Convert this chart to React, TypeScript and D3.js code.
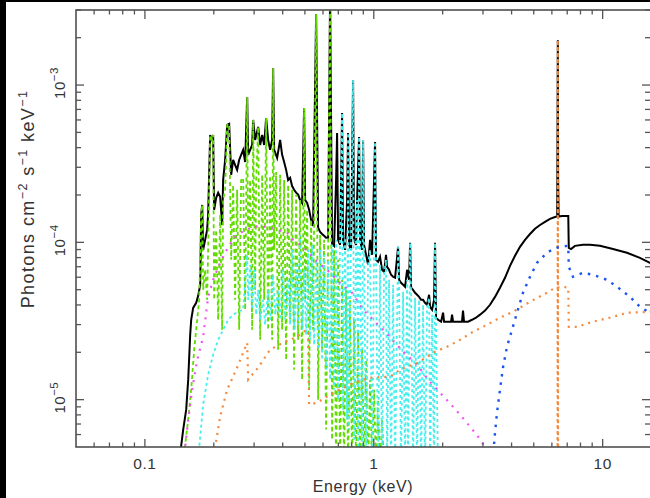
import React from "react";
import * as d3 from "d3";

const W = 650;
const H = 498;
const PLOT = { left: 76, right: 650, top: 10, bottom: 447 };

const energyDomain = [0.05, 16.1];
const fluxDomain = [5e-6, 3e-3];

const xMajorTicks = [0.1, 1, 10];
const xTickLabels = ["0.1", "1", "10"];
const xMinorTicks = [0.06, 0.07, 0.08, 0.09, 0.2, 0.3, 0.4, 0.5, 0.6, 0.7, 0.8, 0.9, 2, 3, 4, 5, 6, 7, 8, 9];
const yMajorTicks = [1e-5, 1e-4, 1e-3];
const yTickExponents = ["−5", "−4", "−3"];
const yMinorTicks = [6e-6, 7e-6, 8e-6, 9e-6, 2e-5, 3e-5, 4e-5, 5e-5, 6e-5, 7e-5, 8e-5, 9e-5,
  2e-4, 3e-4, 4e-4, 5e-4, 6e-4, 7e-4, 8e-4, 9e-4, 2e-3, 3e-3];

// total model (black)
const totalEnergy = [0.1398, 0.1470, 0.1515, 0.1546, 0.1577, 0.1593, 0.1625, 0.1675, 0.1709, 0.1744,
  0.1762, 0.1780, 0.1797, 0.1833, 0.1870, 0.1889, 0.1928, 0.1967, 0.1987, 0.2007, 0.2048, 0.2090, 0.2132,
  0.2175, 0.2197, 0.2242, 0.2288, 0.2334, 0.2382, 0.2430, 0.2479, 0.2529, 0.2581, 0.2633, 0.2687, 0.2742,
  0.2798, 0.2826, 0.2883, 0.2942, 0.2971, 0.3032, 0.3125, 0.3188, 0.3253, 0.3319, 0.3386, 0.3455, 0.3525,
  0.3597, 0.3633, 0.3670, 0.3782, 0.3898, 0.3977, 0.4058, 0.4140, 0.4224, 0.4310, 0.4397, 0.4487, 0.4578,
  0.4671, 0.4766, 0.4863, 0.4961, 0.5012, 0.5114, 0.5217, 0.5323, 0.5431, 0.5598, 0.5712, 0.5827, 0.5945,
  0.6066, 0.6190, 0.6316, 0.6443, 0.6574, 0.6707, 0.6845, 0.6914, 0.6983, 0.7125, 0.7270, 0.7343, 0.7492,
  0.7644, 0.7721, 0.7799, 0.7959, 0.8120, 0.8202, 0.8369, 0.8453, 0.8625, 0.8712, 0.8889, 0.8979, 0.9069,
  0.9255, 0.9442, 0.9634, 0.9830, 1.013, 1.023, 1.044, 1.065, 1.087, 1.109, 1.131, 1.143, 1.166, 1.190,
  1.214, 1.239, 1.277, 1.290, 1.316, 1.343, 1.370, 1.398, 1.426, 1.441, 1.456, 1.485, 1.515, 1.546, 1.577,
  1.609, 1.642, 1.675, 1.709, 1.744, 1.762, 1.798, 1.834, 1.852, 1.871, 1.909, 1.968, 2.008, 2.028, 2.176,
  2.198, 2.220, 2.429, 2.454, 2.479, 2.581, 2.686, 2.797, 2.912, 3.062, 3.220, 3.386, 3.560, 3.744, 3.937,
  4.140, 4.354, 4.578, 4.814, 5.063, 5.324, 5.598, 5.887, 6.190, 6.33, 6.37, 6.39, 6.42, 6.642, 6.984,
  7.075, 7.112, 7.271, 7.569, 8.203, 8.801, 9.732, 11.09, 12.77, 14.55, 16.42];
const totalFlux = [3.6e-6, 6.45e-6, 8.64e-6, 1.34e-5, 2.58e-5, 3.22e-5, 3.83e-5, 4.13e-5, 4.57e-5, 5.37e-5,
  1.5e-4, 1.73e-4, 8.96e-5, 1.037e-4, 1.2e-4, 1.5e-4, 4.81e-4, 4.48e-4, 4.81e-4, 1.61e-4, 1.92e-4, 2.07e-4, 1.95e-4,
  1.29e-4, 2.49e-4, 3.34e-4, 5.58e-4, 5.66e-4, 2.69e-4, 3.34e-4, 3.1e-4, 2.89e-4, 3.34e-4, 3.6e-4, 3.87e-4, 3.24e-4,
  8.39e-4, 3.6e-4, 3.87e-4, 4.16e-4, 6.0e-4, 4.48e-4, 5.42e-4, 4.16e-4, 4.81e-4, 4.16e-4, 6.17e-4, 4.48e-4, 3.87e-4,
  4.48e-4, 1.28e-3, 3.87e-4, 3.44e-4, 4.48e-4, 3.6e-4, 3.24e-4, 2.89e-4, 2.49e-4, 2.57e-4, 2.28e-4, 2.16e-4, 2.07e-4,
  2.01e-4, 1.86e-4, 1.78e-4, 7.14e-4, 1.86e-4, 1.78e-4, 1.61e-4, 1.39e-4, 1.27e-4, 2.82e-3, 1.24e-4, 1.165e-4, 1.13e-4,
  1.1e-4, 1.07e-4, 1.07e-4, 3.73e-3, 9.78e-5, 9.5e-5, 2.49e-4, 4.96e-4, 1.037e-4, 9.64e-5, 6.64e-4, 1.037e-4, 8.96e-5,
  1.86e-4, 4.96e-4, 9.64e-5, 8.96e-5, 1.076e-3, 1.037e-4, 9.64e-5, 1.86e-4, 4.68e-4, 1.037e-4, 8.96e-5, 4.48e-4, 9.64e-5,
  8.33e-5, 7.19e-5, 1.037e-4, 8.33e-5, 4.35e-4, 7.74e-5, 7.52e-5, 8.09e-5, 6.69e-5, 6.5e-5, 8.33e-5, 6.99e-5, 6.69e-5, 6.22e-5,
  6.04e-5, 5.95e-5, 9.36e-5, 5.78e-5, 5.53e-5, 5.37e-5, 5.22e-5, 6.69e-5, 5.78e-5, 9.93e-5, 5.14e-5, 4.99e-5, 4.78e-5, 4.64e-5, 4.5e-5,
  4.31e-5, 4.31e-5, 4.13e-5, 4.01e-5, 4.64e-5, 3.89e-5, 3.73e-5, 4.31e-5, 9.93e-5, 3.32e-5, 3.22e-5, 3.13e-5, 3.57e-5, 3.13e-5, 3.13e-5,
  3.47e-5, 3.13e-5, 3.13e-5, 3.68e-5, 3.13e-5, 3.13e-5, 3.22e-5, 3.32e-5, 3.47e-5, 3.68e-5, 4.01e-5, 4.5e-5, 5.14e-5, 5.95e-5, 7.09e-5,
  8.21e-5, 9.36e-5, 1.037e-4, 1.13e-4, 1.22e-4, 1.29e-4, 1.35e-4, 1.41e-4, 1.45e-4, 1.46e-4, 1.93e-3, 2.5e-4, 1.46e-4, 1.47e-4, 1.47e-4,
  1.47e-4, 9.22e-5, 9.07e-5, 9.5e-5, 9.64e-5, 9.64e-5, 9.5e-5, 9.07e-5, 8.58e-5, 7.97e-5, 7.3e-5];

// cool plasma (green)
const coolEnergy = [0.1455, 0.1546, 0.1593, 0.1642, 0.1692, 0.1726, 0.1762, 0.1780, 0.1797, 0.1833, 0.1870,
  0.1889, 0.1928, 0.1967, 0.1987, 0.2007, 0.2048, 0.2090, 0.2132, 0.2175, 0.2197, 0.2242, 0.2288, 0.2334,
  0.2382, 0.2430, 0.2479, 0.2529, 0.2581, 0.2633, 0.2687, 0.2742, 0.2798, 0.2826, 0.2883, 0.2942, 0.2971,
  0.3032, 0.3063, 0.3125, 0.3188, 0.3253, 0.3319, 0.3386, 0.3455, 0.3525, 0.3597, 0.3633, 0.3670, 0.3744,
  0.3820, 0.3898, 0.3977, 0.4058, 0.4140, 0.4224, 0.4310, 0.4397, 0.4487, 0.4578, 0.4671, 0.4766, 0.4863,
  0.4961, 0.5012, 0.5114, 0.5217, 0.5323, 0.5431, 0.5598, 0.5712, 0.5827, 0.5945, 0.6066, 0.6190, 0.6316,
  0.6443, 0.6574, 0.6707, 0.6845, 0.6983, 0.7125, 0.7270, 0.7417, 0.7568, 0.7721, 0.7879, 0.8039, 0.8202,
  0.8369, 0.8539, 0.8712, 0.8889, 0.9069, 0.9255, 0.9442, 0.9634, 0.9830, 1.003, 1.023, 1.044, 1.065, 1.087, 1.109];
const coolFlux = [3.6e-6, 7.47e-6, 1.157e-5, 2.08e-5, 3.22e-5, 4.31e-5, 1.5e-4, 1.73e-4, 4.99e-5, 6.69e-5, 4.31e-5,
  8.96e-5, 4.81e-4, 4.48e-4, 4.81e-4, 4.31e-5, 1.2e-4, 3.22e-5, 1.5e-4, 2.78e-5, 1.86e-4, 2.16e-4, 5.58e-4, 5.66e-4,
  7.74e-5, 2.32e-4, 4.31e-5, 2.16e-4, 2.78e-5, 2.49e-4, 2.57e-4, 3.73e-5, 8.39e-4, 7.74e-5, 2.49e-4, 2.78e-5, 6.0e-4,
  4.99e-5, 2.49e-4, 5.42e-4, 2.4e-5, 2.69e-4, 4.31e-5, 6.17e-4, 2.78e-5, 2.65e-4, 2.4e-5, 1.28e-3, 8.96e-5, 2.8e-4,
  2.08e-5, 2.69e-4, 2.78e-5, 2.49e-4, 1.79e-5, 2.32e-4, 3.22e-5, 2.16e-4, 1.55e-5, 2.01e-4, 2.4e-5, 1.86e-4, 1.34e-5,
  7.14e-4, 4.31e-5, 1.61e-4, 1.157e-5, 1.39e-4, 2.78e-5, 2.82e-3, 1.0e-5, 1.115e-4, 2.08e-5, 1.037e-4, 6.45e-6, 9.64e-5,
  3.73e-3, 5.57e-6, 8.96e-5, 3.6e-6, 7.74e-5, 3.6e-6, 5.78e-5, 3.6e-6, 4.99e-5, 3.6e-6, 4.31e-5, 3.6e-6, 3.22e-5,
  3.6e-6, 2.78e-5, 3.6e-6, 2.08e-5, 3.6e-6, 1.79e-5, 3.6e-6, 1.34e-5, 3.6e-6, 1.157e-5, 3.6e-6, 1.0e-5, 3.6e-6, 7.47e-6, 3.6e-6];

// warm plasma (cyan)
const warmEnergy = [0.1692, 0.1797, 0.1889, 0.1987, 0.2090, 0.2197, 0.2311, 0.2430, 0.2555, 0.2687, 0.2742,
  0.2798, 0.2826, 0.2883, 0.2942, 0.3002, 0.3063, 0.3125, 0.3188, 0.3286, 0.3352, 0.3455, 0.3525, 0.3633,
  0.3707, 0.3820, 0.3898, 0.4017, 0.4099, 0.4224, 0.4310, 0.4397, 0.4487, 0.4578, 0.4671, 0.4766, 0.4863,
  0.4961, 0.5063, 0.5165, 0.5270, 0.5377, 0.5486, 0.5598, 0.5712, 0.5827, 0.5945, 0.6066, 0.6190, 0.6316,
  0.6443, 0.6574, 0.6707, 0.6845, 0.6983, 0.7125, 0.7270, 0.7343, 0.7492, 0.7644, 0.7721, 0.7799, 0.7959,
  0.8120, 0.8202, 0.8369, 0.8453, 0.8539, 0.8625, 0.8712, 0.8889, 0.8979, 0.9069, 0.9255, 0.9442, 0.9634,
  0.9830, 1.013, 1.023, 1.044, 1.065, 1.087, 1.109, 1.131, 1.143, 1.166, 1.190, 1.214, 1.239, 1.277, 1.290,
  1.316, 1.343, 1.370, 1.398, 1.412, 1.441, 1.456, 1.485, 1.515, 1.546, 1.577, 1.609, 1.642, 1.675, 1.709,
  1.744, 1.762, 1.798, 1.834, 1.852, 1.871, 1.909];
const warmFlux = [3.6e-6, 9.29e-6, 1.44e-5, 1.93e-5, 2.4e-5, 2.78e-5, 3.22e-5, 3.47e-5, 3.62e-5, 3.73e-5, 5.78e-5,
  8.33e-5, 4.31e-5, 7.19e-5, 3.73e-5, 6.69e-5, 3.47e-5, 4.99e-5, 3.22e-5, 4.31e-5, 2.99e-5, 4.99e-5, 3.22e-5, 6.22e-5,
  3.47e-5, 4.99e-5, 3.22e-5, 6.69e-5, 3.22e-5, 5.78e-5, 2.99e-5, 8.96e-5, 2.78e-5, 7.19e-5, 2.99e-5, 1.115e-4, 2.78e-5,
  6.69e-5, 2.58e-5, 8.96e-5, 2.4e-5, 9.64e-5, 2.23e-5, 7.74e-5, 2.08e-5, 8.96e-5, 1.79e-5, 8.33e-5, 1.55e-5, 7.74e-5,
  1.34e-5, 9.64e-5, 1.157e-5, 1.037e-4, 1.0e-5, 1.037e-4, 6.64e-4, 8.64e-6, 1.068e-4, 7.47e-6, 4.96e-4, 6.45e-6, 1.115e-4,
  1.076e-3, 5.57e-6, 1.068e-4, 1.86e-4, 3.6e-6, 4.68e-4, 1.037e-4, 3.6e-6, 4.48e-4, 8.96e-5, 3.6e-6, 7.19e-5, 8.96e-5,
  3.6e-6, 4.35e-4, 7.19e-5, 3.6e-6, 7.19e-5, 3.6e-6, 6.22e-5, 7.74e-5, 3.6e-6, 5.78e-5, 3.6e-6, 5.37e-5, 3.6e-6, 9.36e-5, 4.99e-5,
  3.6e-6, 4.85e-5, 3.6e-6, 5.78e-5, 3.6e-6, 9.93e-5, 4.64e-5, 3.6e-6, 4.44e-5, 3.6e-6, 4.31e-5, 3.6e-6, 4.01e-5, 3.6e-6, 3.83e-5,
  4.44e-5, 3.6e-6, 3.47e-5, 3.6e-6, 9.93e-5, 2.78e-5, 3.6e-6];

// soft continuum (magenta)
const softEnergy = [0.1470, 0.150, 0.1546, 0.1609, 0.1692, 0.1797, 0.1889, 0.1987, 0.2132, 0.2311, 0.2479, 0.2660,
  0.2942, 0.3188, 0.3525, 0.3820, 0.4182, 0.4442, 0.4912, 0.5712, 0.6252, 0.7125, 0.8039, 0.8979, 0.9929, 1.120,
  1.343, 1.546, 1.727, 1.948, 2.220, 2.381, 2.633, 2.854, 3.062, 3.285];
const softFlux = [3.6e-6, 5.0e-6, 7.47e-6, 1.157e-5, 1.79e-5, 2.51e-5, 4.5e-5, 5.78e-5, 7.41e-5, 9.36e-5, 1.083e-4, 1.165e-4,
  1.25e-4, 1.27e-4, 1.24e-4, 1.2e-4, 1.148e-4, 1.037e-4, 9.36e-5, 7.41e-5, 6.69e-5, 5.53e-5, 4.78e-5, 3.73e-5, 3.22e-5, 2.7e-5,
  2.02e-5, 1.67e-5, 1.34e-5, 1.107e-5, 9.02e-6, 8.03e-6, 6.74e-6, 5.83e-6, 5.0e-6, 4.17e-6];

// reflection continuum (orange)
const reflEnergy = [0.1947, 0.2028, 0.2132, 0.2288, 0.2529, 0.2798, 0.2826, 0.3125, 0.3525, 0.4017, 0.4624, 0.4912,
  0.5165, 0.5217, 0.5655, 0.6252, 0.7125, 0.8120, 0.9634, 1.178, 1.303, 1.546, 1.709, 1.816, 2.090, 2.381, 2.714,
  3.124, 3.560, 4.058, 4.814, 5.712, 6.190, 6.709, 7.075, 7.112, 7.723, 9.070, 10.76, 12.77, 15.6, 16.42];
const reflFlux = [3.6e-6, 5.0e-6, 7.8e-6, 1.157e-5, 1.6e-5, 2.3e-5, 1.34e-5, 1.6e-5, 2.08e-5, 2.3e-5, 2.51e-5, 2.7e-5,
  2.78e-5, 9.29e-6, 9.57e-6, 1.045e-5, 1.157e-5, 1.28e-5, 1.38e-5, 1.4e-5, 1.55e-5, 1.71e-5, 1.87e-5, 1.99e-5, 2.17e-5, 2.4e-5, 2.7e-5,
  2.99e-5, 3.32e-5, 3.62e-5, 4.19e-5, 4.78e-5, 5.14e-5, 5.22e-5, 5.14e-5, 2.9e-5, 2.9e-5, 3.13e-5, 3.32e-5, 3.57e-5, 3.6e-5, 3.62e-5];

// Fe K line (orange)
const ironEnergy = [6.35, 6.37, 6.39];
const ironFlux = [3e-6, 1.93e-3, 3e-6];

// absorbed power law (blue)
const hardEnergy = [3.285, 3.386, 3.455, 3.560, 3.669, 3.820, 4.017, 4.224, 4.487, 4.814, 5.166, 5.712, 6.190,
  6.984, 7.075, 7.112, 7.418, 8.203, 9.070, 10.44, 11.55, 13.16, 14.55, 15.77, 16.42];
const hardFlux = [3.6e-6, 6.17e-6, 8.27e-6, 1.157e-5, 1.6e-5, 2.17e-5, 2.78e-5, 3.57e-5, 4.78e-5, 6.04e-5, 7.41e-5, 8.58e-5, 9.22e-5,
  9.5e-5, 9.5e-5, 6.99e-5, 6.04e-5, 6.4e-5, 6.22e-5, 5.78e-5, 5.22e-5, 4.5e-5, 3.89e-5, 3.62e-5, 3.47e-5];

const FONT = "'Liberation Sans', Arial, Helvetica, sans-serif";

export default function App() {
  const x = d3.scaleLog().domain(energyDomain).range([PLOT.left, PLOT.right]);
  const y = d3.scaleLog().domain(fluxDomain).range([PLOT.bottom, PLOT.top]);
  const line = d3
    .line<number>()
    .x((d: any) => x(d[0]))
    .y((d: any) => y(d[1]));
  const mk = (e: number[], f: number[]) => line(e.map((v, i) => [v, f[i]]) as any) || "";

  const series = [
    { key: "total", d: mk(totalEnergy, totalFlux), color: "#000000", dash: undefined, w: 2 },
    { key: "cool", d: mk(coolEnergy, coolFlux), color: "#62dc00", dash: "4 3", w: 1.8 },
    { key: "warm", d: mk(warmEnergy, warmFlux), color: "#46eeee", dash: "3 3", w: 1.8 },
    { key: "soft", d: mk(softEnergy, softFlux), color: "#ee55ee", dash: "2 6", w: 2.2 },
    { key: "refl", d: mk(reflEnergy, reflFlux), color: "#f58a3c", dash: "2 5", w: 2.2 },
    { key: "iron", d: mk(ironEnergy, ironFlux), color: "#f58a3c", dash: "3 3", w: 2 },
    { key: "hard", d: mk(hardEnergy, hardFlux), color: "#1a55f0", dash: "2.5 6", w: 2.4 },
  ];

  const tickColor = "#555";
  return (
    <svg
      width={W}
      height={H}
      style={{ position: "absolute", left: 0, top: 0, background: "#fff" }}
      xmlns="http://www.w3.org/2000/svg"
    >
      <rect x={0} y={0} width={W} height={H} fill="#fff" />
      <defs>
        <clipPath id="plotclip">
          <rect x={PLOT.left} y={PLOT.top} width={PLOT.right - PLOT.left} height={PLOT.bottom - PLOT.top} />
        </clipPath>
      </defs>
      <g clipPath="url(#plotclip)">
        {series.map((s) => (
          <path key={s.key} d={s.d} fill="none" stroke={s.color} strokeWidth={s.w}
            strokeDasharray={s.dash} strokeLinejoin="miter" />
        ))}
      </g>
      {/* frame */}
      <rect x={PLOT.left} y={PLOT.top} width={PLOT.right - PLOT.left + 2} height={PLOT.bottom - PLOT.top}
        fill="none" stroke="#444" strokeWidth={1.5} />
      {/* x ticks */}
      {xMajorTicks.map((t) => (
        <g key={"xM" + t}>
          <line x1={x(t)} x2={x(t)} y1={PLOT.bottom} y2={PLOT.bottom - 8} stroke={tickColor} strokeWidth={1.3} />
          <line x1={x(t)} x2={x(t)} y1={PLOT.top} y2={PLOT.top + 9} stroke={tickColor} strokeWidth={1.3} />
        </g>
      ))}
      {xMinorTicks.map((t) => (
        <g key={"xm" + t}>
          <line x1={x(t)} x2={x(t)} y1={PLOT.bottom} y2={PLOT.bottom - 4.5} stroke={tickColor} strokeWidth={1.3} />
          <line x1={x(t)} x2={x(t)} y1={PLOT.top} y2={PLOT.top + 4.5} stroke={tickColor} strokeWidth={1.3} />
        </g>
      ))}
      {/* y ticks */}
      {yMajorTicks.map((t) => (
        <g key={"yM" + t}>
          <line x1={PLOT.left} x2={PLOT.left + 8} y1={y(t)} y2={y(t)} stroke={tickColor} strokeWidth={1.3} />
          <line x1={PLOT.right} x2={PLOT.right - 8} y1={y(t)} y2={y(t)} stroke={tickColor} strokeWidth={1.3} />
        </g>
      ))}
      {yMinorTicks.map((t) => (
        <g key={"ym" + t}>
          <line x1={PLOT.left} x2={PLOT.left + 5} y1={y(t)} y2={y(t)} stroke={tickColor} strokeWidth={1.3} />
          <line x1={PLOT.right} x2={PLOT.right - 5} y1={y(t)} y2={y(t)} stroke={tickColor} strokeWidth={1.3} />
        </g>
      ))}
      {/* x tick labels */}
      {xMajorTicks.map((t, i) => (
        <text key={"xl" + t} x={x(t)} y={469} textAnchor="middle" fontFamily={FONT} fontSize={15.5}
          letterSpacing={0.5} fill="#333">
          {xTickLabels[i]}
        </text>
      ))}
      {/* y tick labels */}
      {yMajorTicks.map((t, i) => (
        <text key={"yl" + t} transform={`translate(65,${y(t) - 2}) rotate(-90)`} textAnchor="middle"
          fontFamily={FONT} fontSize={15} letterSpacing={0.5} fill="#333">
          10<tspan dy={-7} fontSize={11.5}>{yTickExponents[i]}</tspan>
        </text>
      ))}
      {/* axis titles */}
      <text x={363} y={492} textAnchor="middle" fontFamily={FONT} fontSize={16} letterSpacing={0.6} fill="#333">
        Energy (keV)
      </text>
      <text transform="translate(34,199) rotate(-90)" textAnchor="middle" fontFamily={FONT} fontSize={18}
        letterSpacing={1.4} fill="#333">
        Photons cm<tspan dy={-7} fontSize={12.5}>−2</tspan>
        <tspan dy={7}> s</tspan><tspan dy={-7} fontSize={12.5}>−1</tspan>
        <tspan dy={7}> keV</tspan><tspan dy={-7} fontSize={12.5}>−1</tspan>
      </text>
      {/* black borders of the original frame */}
      <rect x={0} y={0} width={6} height={H} fill="#000" />
      <rect x={0} y={0} width={W} height={2} fill="#000" />
    </svg>
  );
}
